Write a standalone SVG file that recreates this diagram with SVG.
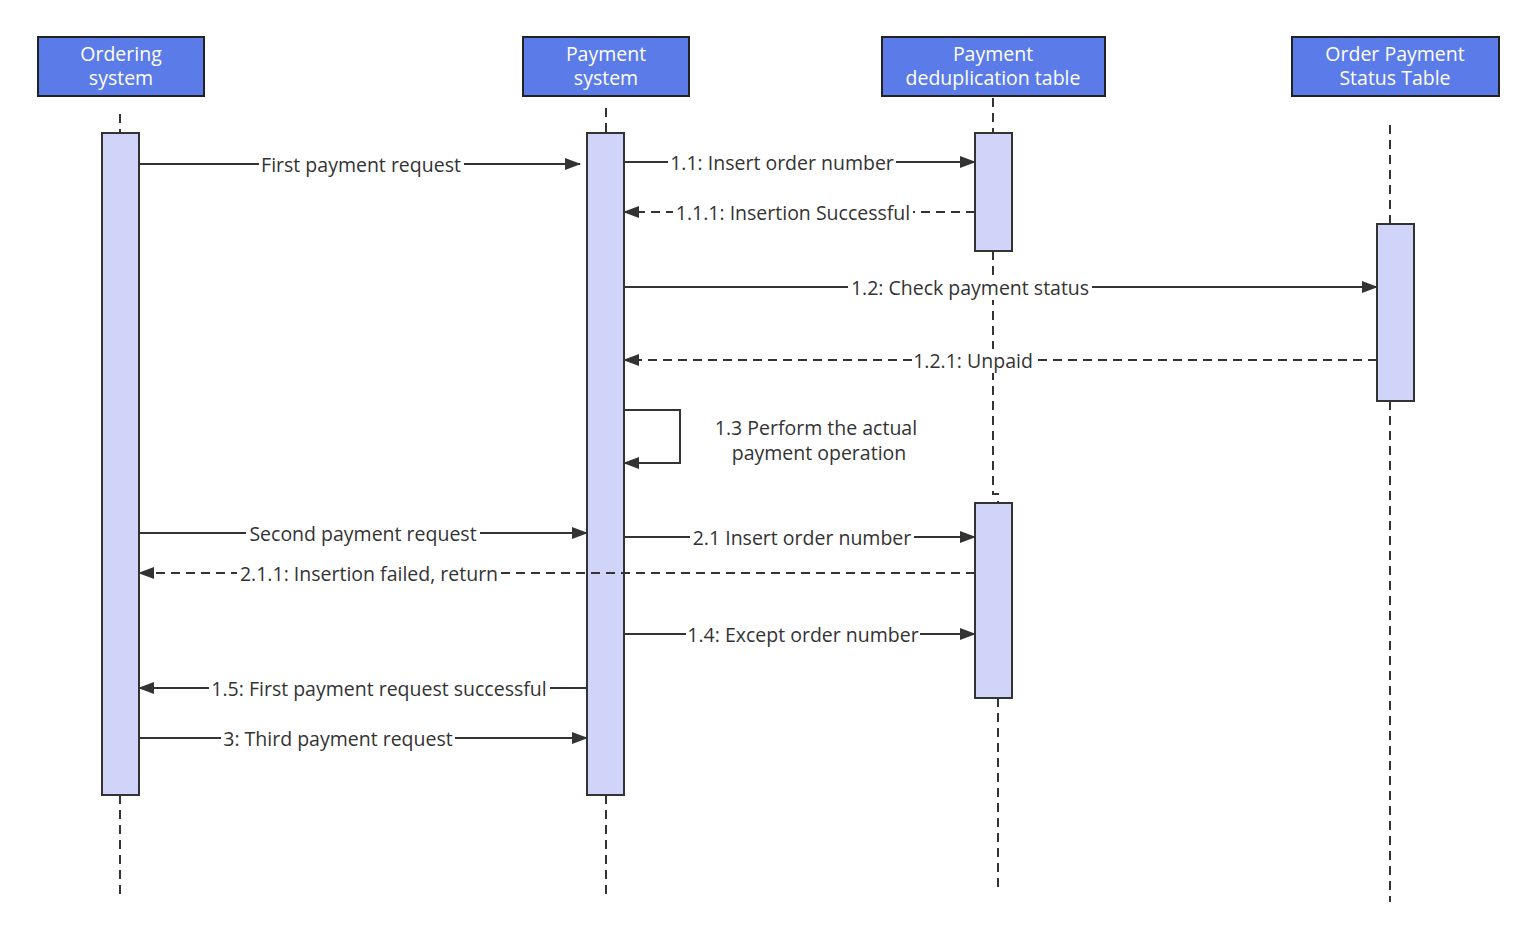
<svg xmlns="http://www.w3.org/2000/svg" width="1536" height="940" viewBox="0 0 1536 940">
<defs>
<marker id="ah" markerWidth="16" markerHeight="12" refX="15" refY="6" orient="auto" markerUnits="userSpaceOnUse"><path d="M0,0 L16,6 L0,12 Z" fill="#333"/></marker>
<style>
.hd{fill:#5b7be8;stroke:#222;stroke-width:2}
.ht{fill:#fff;font-family:"Open Sans","Noto Sans",sans-serif;font-size:19.5px;text-anchor:middle}
.ll{stroke:#333;stroke-width:2;stroke-dasharray:9 6;fill:none}
.act{fill:#d0d4f8;stroke:#333;stroke-width:2}
.m{stroke:#333;stroke-width:2;fill:none;marker-end:url(#ah)}
.d{stroke-dasharray:9 6}
.lb{fill:#333;font-family:"Open Sans","Noto Sans",sans-serif;font-size:19.5px;text-anchor:middle}
.bg{fill:#fff}
</style>
</defs>
<rect width="1536" height="940" fill="#fff"/>
<g id="connectors">
<path class="ll" d="M120,114 V133 M120,795 V897"/>
<path class="ll" d="M606,108 V133 M606,795 V897"/>
<path class="ll" d="M993,98 V133 M993,251 V494 L998,494 V503 M998,698 V890"/>
<path class="ll" d="M1390,125 V224 M1390,401 V902"/>
</g>
<g id="n-order"><rect class="hd" x="38" y="37" width="166" height="59"/><text class="ht" x="121" y="61">Ordering</text><text class="ht" x="121" y="85">system</text><rect class="act" x="102" y="133" width="37" height="662"/></g>
<g id="n-pay"><rect class="hd" x="523" y="37" width="166" height="59"/><text class="ht" x="606" y="61">Payment</text><text class="ht" x="606" y="85">system</text><rect class="act" x="587" y="133" width="37" height="662"/></g>
<g id="n-dedup"><rect class="hd" x="882" y="37" width="223" height="59"/><text class="ht" x="993" y="61">Payment</text><text class="ht" x="993" y="85">deduplication table</text><rect class="act" x="975" y="133" width="37" height="118"/><rect class="act" x="975" y="503" width="37" height="195"/></g>
<g id="n-status"><rect class="hd" x="1292" y="37" width="207" height="59"/><text class="ht" x="1395" y="61">Order Payment</text><text class="ht" x="1395" y="85">Status Table</text><rect class="act" x="1377" y="224" width="37" height="177"/></g>
<g id="messages">
<path class="m" d="M139,164 H580"/>
<path class="m" d="M624,162 H975"/>
<path class="m d" d="M975,212 H624"/>
<path class="m" d="M624,287 H1377"/>
<path class="m d" d="M1377,360 H624"/>
<path class="m" d="M624,410 H680 V463 H624"/>
<path class="m" d="M139,533 H587"/>
<path class="m" d="M624,537 H975"/>
<path class="m d" d="M975,573 H139"/>
<path class="m" d="M624,634 H975"/>
<path class="m" d="M587,688 H139"/>
<path class="m" d="M139,738 H587"/>
<rect class="bg" x="259" y="153" width="205" height="24"/><text class="lb" x="361" y="172">First payment request</text>
<rect class="bg" x="668" y="151" width="228" height="24"/><text class="lb" x="782" y="170">1.1: Insert order number</text>
<rect class="bg" x="673" y="201" width="240" height="24"/><text class="lb" x="793" y="220">1.1.1: Insertion Successful</text>
<rect class="bg" x="848" y="276" width="244" height="24"/><text class="lb" x="970" y="295">1.2: Check payment status</text>
<rect class="bg" x="912" y="349" width="122" height="24"/><text class="lb" x="973" y="368">1.2.1: Unpaid</text>
<text class="lb" x="816" y="435">1.3 Perform the actual</text><text class="lb" x="819" y="460">payment operation</text>
<rect class="bg" x="246" y="522" width="234" height="24"/><text class="lb" x="363" y="541">Second payment request</text>
<rect class="bg" x="690" y="526" width="224" height="24"/><text class="lb" x="802" y="545">2.1 Insert order number</text>
<rect class="bg" x="237" y="562" width="264" height="24"/><text class="lb" x="369" y="581">2.1.1: Insertion failed, return</text>
<rect class="bg" x="686" y="623" width="234" height="24"/><text class="lb" x="803" y="642">1.4: Except order number</text>
<rect class="bg" x="209" y="677" width="341" height="24"/><text class="lb" x="379" y="696">1.5: First payment request successful</text>
<rect class="bg" x="221" y="727" width="234" height="24"/><text class="lb" x="338" y="746">3: Third payment request</text>
</g>
</svg>
